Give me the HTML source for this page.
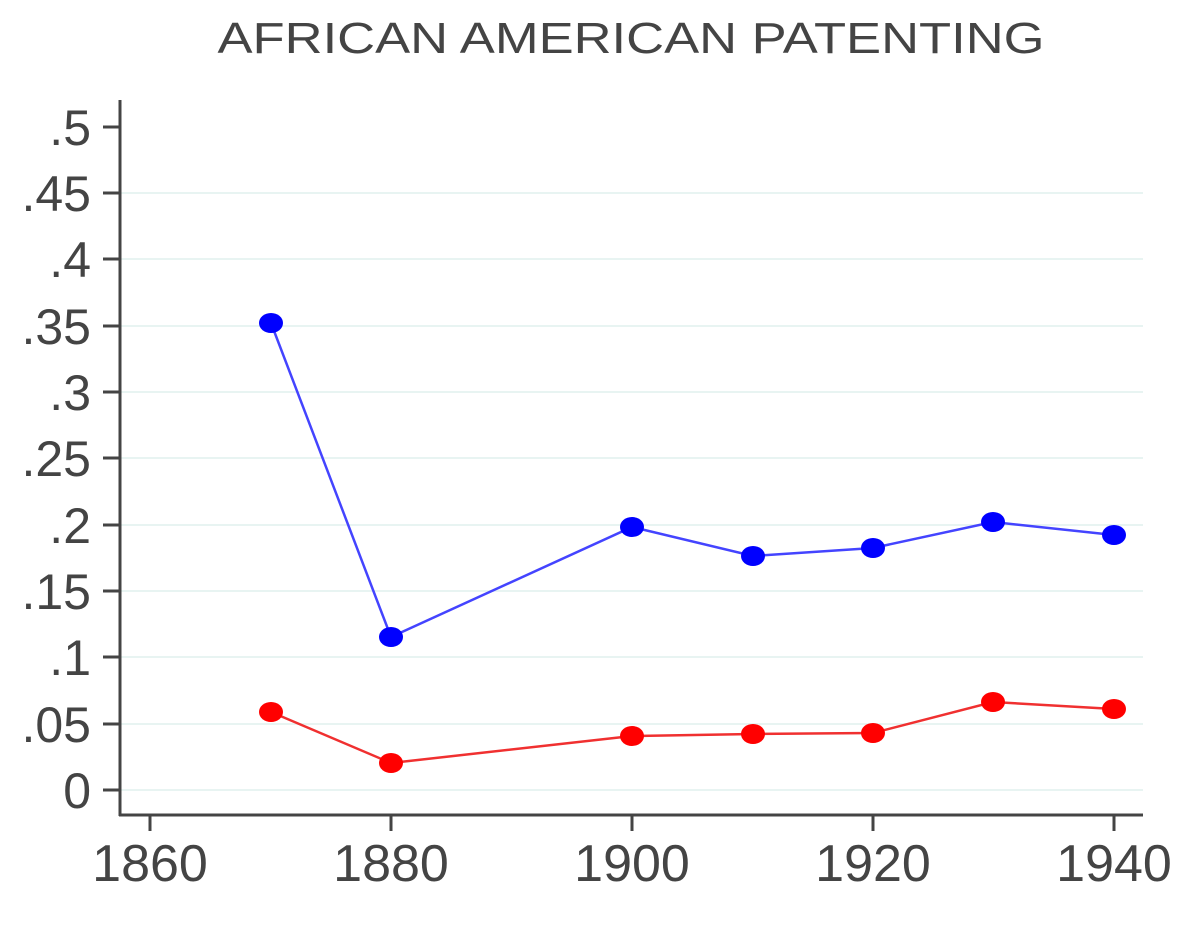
<!DOCTYPE html>
<html><head><style>html,body{margin:0;padding:0;background:#fff;}</style></head>
<body>
<svg width="1197" height="925" xmlns="http://www.w3.org/2000/svg" font-family="Liberation Sans, sans-serif">
<rect width="1197" height="925" fill="#fff"/>
<text x="631" y="53" text-anchor="middle" font-size="44" fill="#444" textLength="827" lengthAdjust="spacingAndGlyphs">AFRICAN AMERICAN PATENTING</text>
<g stroke="#e8f4f2" stroke-width="2">
<line x1="121" x2="1143" y1="790" y2="790"/><line x1="121" x2="1143" y1="724" y2="724"/>
<line x1="121" x2="1143" y1="657" y2="657"/><line x1="121" x2="1143" y1="591" y2="591"/>
<line x1="121" x2="1143" y1="525" y2="525"/><line x1="121" x2="1143" y1="458" y2="458"/>
<line x1="121" x2="1143" y1="392" y2="392"/><line x1="121" x2="1143" y1="326" y2="326"/>
<line x1="121" x2="1143" y1="259" y2="259"/><line x1="121" x2="1143" y1="193" y2="193"/>
</g>
<g stroke="#444" stroke-width="3">
<line x1="120" y1="100" x2="120" y2="816"/><line x1="119" y1="815" x2="1143" y2="815"/>
<line x1="103" x2="120" y1="790" y2="790"/><line x1="103" x2="120" y1="724" y2="724"/>
<line x1="103" x2="120" y1="657" y2="657"/><line x1="103" x2="120" y1="591" y2="591"/>
<line x1="103" x2="120" y1="525" y2="525"/><line x1="103" x2="120" y1="458" y2="458"/>
<line x1="103" x2="120" y1="392" y2="392"/><line x1="103" x2="120" y1="326" y2="326"/>
<line x1="103" x2="120" y1="259" y2="259"/><line x1="103" x2="120" y1="193" y2="193"/>
<line x1="103" x2="120" y1="127" y2="127"/>
<line x1="150" x2="150" y1="815" y2="831"/><line x1="391" x2="391" y1="815" y2="831"/>
<line x1="632" x2="632" y1="815" y2="831"/><line x1="873" x2="873" y1="815" y2="831"/>
<line x1="1114" x2="1114" y1="815" y2="831"/>
</g>
<g font-size="50" fill="#444" text-anchor="end">
<text x="91" y="808">0</text><text x="91" y="742">.05</text><text x="91" y="675">.1</text>
<text x="91" y="609">.15</text><text x="91" y="543">.2</text><text x="91" y="476">.25</text>
<text x="91" y="410">.3</text><text x="91" y="344">.35</text><text x="91" y="277">.4</text>
<text x="91" y="211">.45</text><text x="91" y="145">.5</text>
</g>
<g font-size="52" fill="#444" text-anchor="middle">
<text x="150" y="881">1860</text><text x="391" y="881">1880</text><text x="632" y="881">1900</text>
<text x="873" y="881">1920</text><text x="1114" y="881">1940</text>
</g>
<polyline fill="none" stroke="#4444ff" stroke-width="2.5" points="271,323 391,637 632,527 753,556 873,548 993,522 1114,535"/>
<polyline fill="none" stroke="#f03030" stroke-width="2.5" points="271,712 391,763 632,736 753,734 873,733 993,702 1114,709"/>
<g fill="#0000ff">
<ellipse cx="271" cy="323" rx="12" ry="10"/><ellipse cx="391" cy="637" rx="12" ry="10"/>
<ellipse cx="632" cy="527" rx="12" ry="10"/><ellipse cx="753" cy="556" rx="12" ry="10"/>
<ellipse cx="873" cy="548" rx="12" ry="10"/><ellipse cx="993" cy="522" rx="12" ry="10"/>
<ellipse cx="1114" cy="535" rx="12" ry="10"/>
</g>
<g fill="#ff0000">
<ellipse cx="271" cy="712" rx="12" ry="10"/><ellipse cx="391" cy="763" rx="12" ry="10"/>
<ellipse cx="632" cy="736" rx="12" ry="10"/><ellipse cx="753" cy="734" rx="12" ry="10"/>
<ellipse cx="873" cy="733" rx="12" ry="10"/><ellipse cx="993" cy="702" rx="12" ry="10"/>
<ellipse cx="1114" cy="709" rx="12" ry="10"/>
</g>
</svg>
</body></html>
